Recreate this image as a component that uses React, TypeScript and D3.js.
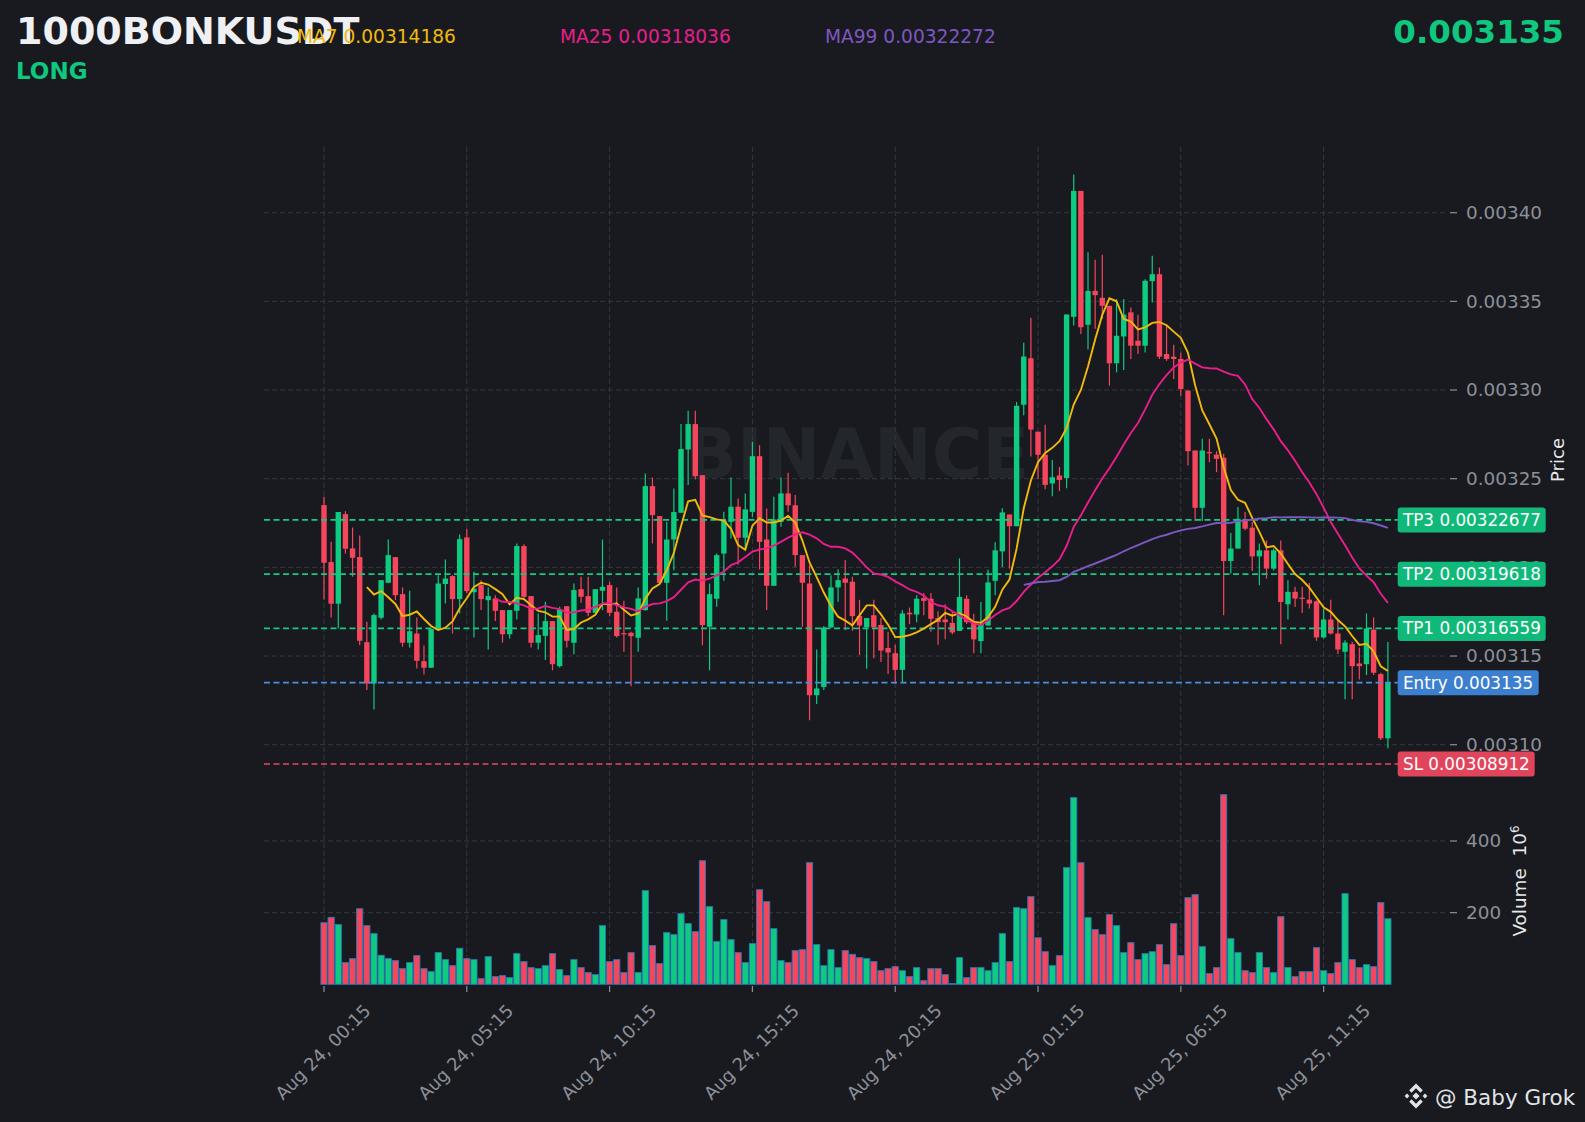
import React from "react";
import * as d3 from "d3";

// 15m candles, Aug 24 00:15 -> Aug 25 13:30 (price in USDT)
const opens = [
  0.0032351, 0.0032030, 0.0031795, 0.0032300, 0.0032107, 0.0032058, 0.0031578, 0.0031345, 0.0031716, 0.0031913,
  0.0032058, 0.0031849, 0.0031575, 0.0031627, 0.0031471, 0.0031434, 0.0031652, 0.0031906, 0.0031951, 0.0031821,
  0.0032169, 0.0031860, 0.0031900, 0.0031815, 0.0031825, 0.0031759, 0.0031623, 0.0031755, 0.0032120, 0.0031838,
  0.0031575, 0.0031614, 0.0031697, 0.0031443, 0.0031781, 0.0031575, 0.0031877, 0.0031838, 0.0031744, 0.0031868,
  0.0031900, 0.0031750, 0.0031629, 0.0031631, 0.0031603, 0.0031759, 0.0032458, 0.0032289, 0.0031913, 0.0032157,
  0.0032308, 0.0032665, 0.0032808, 0.0032520, 0.0031665, 0.0031823, 0.0032078, 0.0032257, 0.0032342, 0.0032167,
  0.0032313, 0.0032627, 0.0032157, 0.0031896, 0.0032257, 0.0032417, 0.0032350, 0.0032069, 0.0031909, 0.0031279,
  0.0031326, 0.0031661, 0.0031887, 0.0031937, 0.0031919, 0.0031726, 0.0031662, 0.0031730, 0.0031675, 0.0031545,
  0.0031516, 0.0031422, 0.0031744, 0.0031734, 0.0031827, 0.0031823, 0.0031714, 0.0031706, 0.0031687, 0.0031642,
  0.0031823, 0.0031695, 0.0031584, 0.0031672, 0.0031924, 0.0032090, 0.0032298, 0.0032232, 0.0032917, 0.0033179,
  0.0032765, 0.0032635, 0.0032473, 0.0032518, 0.0032504, 0.0033413, 0.0034123, 0.0033368, 0.0033559, 0.0033520,
  0.0033475, 0.0033151, 0.0033302, 0.0033438, 0.0033278, 0.0033250, 0.0033614, 0.0033653, 0.0033203, 0.0033188,
  0.0033175, 0.0032997, 0.0032659, 0.0032336, 0.0032650, 0.0032636, 0.0032618, 0.0032036, 0.0032106, 0.0032269,
  0.0032224, 0.0032062, 0.0032096, 0.0031993, 0.0032096, 0.0031792, 0.0031862, 0.0031829, 0.0031818, 0.0031809,
  0.0031605, 0.0031706, 0.0031627, 0.0031524, 0.0031567, 0.0031458, 0.0031454, 0.0031649, 0.0031398, 0.0031036,
];

const highs = [
  0.0032398, 0.0032144, 0.0032312, 0.0032317, 0.0032225, 0.0032180, 0.0031693, 0.0031740, 0.0031928, 0.0032157,
  0.0032058, 0.0031887, 0.0031868, 0.0031717, 0.0031560, 0.0031652, 0.0031956, 0.0032045, 0.0031956, 0.0032186,
  0.0032218, 0.0031975, 0.0031928, 0.0031887, 0.0031843, 0.0031759, 0.0031759, 0.0032135, 0.0032131, 0.0031838,
  0.0031740, 0.0031806, 0.0031697, 0.0031778, 0.0031781, 0.0031909, 0.0031947, 0.0031947, 0.0031877, 0.0032157,
  0.0031919, 0.0031887, 0.0031812, 0.0031637, 0.0031887, 0.0032530, 0.0032507, 0.0032289, 0.0032257, 0.0032445,
  0.0032808, 0.0032883, 0.0032883, 0.0032520, 0.0031909, 0.0032078, 0.0032313, 0.0032507, 0.0032389, 0.0032417,
  0.0032708, 0.0032689, 0.0032332, 0.0032398, 0.0032507, 0.0032533, 0.0032408, 0.0032069, 0.0032013, 0.0031537,
  0.0031669, 0.0031956, 0.0031988, 0.0032041, 0.0031947, 0.0031817, 0.0031714, 0.0031817, 0.0031714, 0.0031637,
  0.0031564, 0.0031759, 0.0031773, 0.0031843, 0.0031856, 0.0031856, 0.0031753, 0.0031792, 0.0031753, 0.0032051,
  0.0031843, 0.0031739, 0.0031804, 0.0031987, 0.0032142, 0.0032333, 0.0032298, 0.0032932, 0.0033267, 0.0033407,
  0.0032765, 0.0032804, 0.0032605, 0.0032566, 0.0033426, 0.0034215, 0.0034123, 0.0033777, 0.0033734, 0.0033763,
  0.0033475, 0.0033513, 0.0033513, 0.0033466, 0.0033425, 0.0033625, 0.0033757, 0.0033691, 0.0033372, 0.0033256,
  0.0033212, 0.0032997, 0.0032659, 0.0032725, 0.0032725, 0.0032655, 0.0032640, 0.0032194, 0.0032340, 0.0032312,
  0.0032256, 0.0032134, 0.0032152, 0.0032106, 0.0032152, 0.0031927, 0.0031890, 0.0031890, 0.0031912, 0.0031814,
  0.0031768, 0.0031818, 0.0031702, 0.0031589, 0.0031580, 0.0031548, 0.0031740, 0.0031717, 0.0031406, 0.0031579,
];

const lows = [
  0.0031819, 0.0031717, 0.0031655, 0.0032078, 0.0031947, 0.0031561, 0.0031308, 0.0031199, 0.0031706, 0.0031913,
  0.0031815, 0.0031552, 0.0031548, 0.0031430, 0.0031396, 0.0031434, 0.0031642, 0.0031796, 0.0031627, 0.0031740,
  0.0031853, 0.0031605, 0.0031759, 0.0031537, 0.0031697, 0.0031576, 0.0031599, 0.0031706, 0.0031815, 0.0031548,
  0.0031537, 0.0031477, 0.0031420, 0.0031435, 0.0031548, 0.0031510, 0.0031800, 0.0031725, 0.0031740, 0.0031759,
  0.0031725, 0.0031605, 0.0031524, 0.0031330, 0.0031524, 0.0031755, 0.0032135, 0.0031909, 0.0031699, 0.0031984,
  0.0032308, 0.0032464, 0.0032496, 0.0031561, 0.0031420, 0.0031778, 0.0031924, 0.0032163, 0.0032016, 0.0032107,
  0.0032285, 0.0031988, 0.0031759, 0.0031896, 0.0032229, 0.0032313, 0.0032003, 0.0031665, 0.0031138, 0.0031229,
  0.0031308, 0.0031661, 0.0031806, 0.0031646, 0.0031642, 0.0031506, 0.0031428, 0.0031487, 0.0031467, 0.0031399,
  0.0031345, 0.0031350, 0.0031680, 0.0031691, 0.0031730, 0.0031637, 0.0031564, 0.0031594, 0.0031623, 0.0031642,
  0.0031681, 0.0031516, 0.0031516, 0.0031672, 0.0031843, 0.0032002, 0.0031993, 0.0032232, 0.0032858, 0.0032625,
  0.0032498, 0.0032440, 0.0032401, 0.0032430, 0.0032446, 0.0033364, 0.0033316, 0.0033228, 0.0033345, 0.0033400,
  0.0033025, 0.0033100, 0.0033113, 0.0033175, 0.0033203, 0.0033212, 0.0033494, 0.0033175, 0.0033165, 0.0033062,
  0.0032968, 0.0032575, 0.0032261, 0.0032261, 0.0032593, 0.0032537, 0.0031730, 0.0031965, 0.0032106, 0.0032209,
  0.0031980, 0.0031899, 0.0031937, 0.0031983, 0.0031567, 0.0031706, 0.0031777, 0.0031743, 0.0031768, 0.0031586,
  0.0031599, 0.0031622, 0.0031511, 0.0031256, 0.0031256, 0.0031368, 0.0031393, 0.0031393, 0.0031027, 0.0030980,
];

const closes = [
  0.0032026, 0.0031795, 0.0032312, 0.0032105, 0.0032054, 0.0031586, 0.0031345, 0.0031731, 0.0031928, 0.0032069,
  0.0031843, 0.0031575, 0.0031640, 0.0031473, 0.0031434, 0.0031652, 0.0031909, 0.0031937, 0.0031821, 0.0032159,
  0.0031866, 0.0031880, 0.0031821, 0.0031838, 0.0031755, 0.0031623, 0.0031759, 0.0032120, 0.0031834, 0.0031575,
  0.0031618, 0.0031697, 0.0031454, 0.0031763, 0.0031586, 0.0031872, 0.0031834, 0.0031744, 0.0031877, 0.0031890,
  0.0031744, 0.0031612, 0.0031625, 0.0031612, 0.0031825, 0.0032458, 0.0032295, 0.0031913, 0.0032157, 0.0032312,
  0.0032667, 0.0032808, 0.0032515, 0.0031674, 0.0031849, 0.0032069, 0.0032266, 0.0032342, 0.0032167, 0.0032327,
  0.0032627, 0.0032144, 0.0031896, 0.0032270, 0.0032417, 0.0032350, 0.0032069, 0.0031913, 0.0031279, 0.0031317,
  0.0031661, 0.0031887, 0.0031928, 0.0031913, 0.0031725, 0.0031672, 0.0031714, 0.0031662, 0.0031531, 0.0031520,
  0.0031422, 0.0031740, 0.0031735, 0.0031823, 0.0031811, 0.0031710, 0.0031691, 0.0031691, 0.0031633, 0.0031833,
  0.0031691, 0.0031594, 0.0031681, 0.0031915, 0.0032096, 0.0032310, 0.0032232, 0.0032911, 0.0033189, 0.0032777,
  0.0032635, 0.0032465, 0.0032508, 0.0032493, 0.0033426, 0.0034123, 0.0033354, 0.0033559, 0.0033535, 0.0033475,
  0.0033151, 0.0033306, 0.0033425, 0.0033250, 0.0033250, 0.0033616, 0.0033653, 0.0033188, 0.0033175, 0.0033175,
  0.0033006, 0.0032655, 0.0032336, 0.0032659, 0.0032645, 0.0032612, 0.0032036, 0.0032106, 0.0032274, 0.0032218,
  0.0032062, 0.0032096, 0.0031993, 0.0032096, 0.0031805, 0.0031862, 0.0031824, 0.0031825, 0.0031796, 0.0031605,
  0.0031706, 0.0031627, 0.0031537, 0.0031576, 0.0031443, 0.0031443, 0.0031655, 0.0031406, 0.0031036, 0.0031350,
];

// volume in millions
const volumes = [
  172, 187, 166.5, 60.5, 71.6, 211, 163.7, 141.4, 81, 71.6,
  66, 43.7, 60.5, 80, 43.7, 35.3, 88.4, 68.8, 52, 100.5,
  71.6, 68.8, 15.8, 77.2, 21.4, 24.2, 18.6, 85.6, 63.3, 46.5,
  43.7, 52, 85.6, 41, 24.2, 68.8, 46.5, 32.6, 27, 163.7,
  63.3, 68.8, 32.6, 88.4, 32.6, 261.4, 108, 57.7, 144.2, 138.6,
  197.2, 169.3, 147, 345, 216.7, 119, 180.5, 124.6, 88.4, 60.5,
  113.5, 264, 230.7, 155.3, 66, 60.5, 94, 96.7, 339.5, 110.7,
  52, 96.7, 46.5, 94, 83.7, 74.4, 71.6, 63.3, 38, 43.7,
  49.3, 38, 21.4, 46.5, 10.2, 43.7, 43.7, 27, 2, 74.4,
  18.6, 46.5, 46.5, 38, 60.5, 141.4, 63.3, 214, 211, 244.6,
  130, 91, 52, 80, 325.6, 521, 339.5, 186, 152.6, 138.6,
  194.4, 163.7, 88.4, 116.3, 68.8, 85.6, 91, 110.7, 54.9, 169.3,
  80, 241.9, 250.2, 105, 29.8, 46.5, 529.3, 127.4, 88.4, 38,
  32.6, 88.4, 46.5, 32.6, 188.8, 46.5, 21.4, 35.3, 35.3, 102.3,
  38, 29.8, 60.5, 253, 68.8, 46.5, 54.9, 49.3, 228, 183,
];

const xTickIndex = [0, 20, 40, 60, 80, 100, 120, 140];
const xTickLabels = [
  "Aug 24, 00:15", "Aug 24, 05:15", "Aug 24, 10:15", "Aug 24, 15:15",
  "Aug 24, 20:15", "Aug 25, 01:15", "Aug 25, 06:15", "Aug 25, 11:15",
];
const priceTicks = [0.0031, 0.00315, 0.0032, 0.00325, 0.0033, 0.00335, 0.0034];
const volumeTicks = [200, 400];

const levelValues = [0.00322677, 0.00319618, 0.00316559, 0.003135, 0.00308912];
const levelTexts = ["TP3 0.00322677", "TP2 0.00319618", "TP1 0.00316559", "Entry 0.003135", "SL 0.00308912"];

const maPeriods = [7, 25, 99];
const maTexts = ["MA7 0.00314186", "MA25 0.00318036", "MA99 0.00322272"];

const BG = "#181a1f";
const UP = "#0ecb81";
const DOWN = "#f6465d";
const GRID = "#35383f";
const TICK = "#8c9099";
const FONT = "DejaVu Sans, sans-serif";
const MA_COLORS = ["#f0b90b", "#e91e8c", "#7e57c2"];
const LEVEL_LINE = ["#17c784", "#17c784", "#17c784", "#4a8fdc", "#e8455e"];
const LEVEL_BOX = ["#10b97a", "#10b97a", "#10b97a", "#3d7fcf", "#e0455c"];
const LEVEL_BOX_W = [148, 148, 148, 141, 137];

function movingAverage(values: number[], n: number): (number | null)[] {
  return values.map((_, i) => (i < n - 1 ? null : (d3.mean(values.slice(i - n + 1, i + 1)) as number)));
}

export default function App() {
  const W = 1585;
  const H = 1122;
  const plotL = 264;
  const plotR = 1448;
  const panelTop = 147;

  const x = d3.scaleLinear().domain([0, 149]).range([324, 1387.9]);
  const yP = d3.scaleLinear().domain([0.0031, 0.0034]).range([744.7, 212.7]);
  const yV = d3.scaleLinear().domain([0, 400]).range([984.3, 841]);
  const baseV = yV(0);

  const candleW = 5.4;
  const barW = 6.2;
  const idx = d3.range(closes.length);

  const maSeries = maPeriods.map((p) => movingAverage(closes, p));
  const maLine = d3
    .line<number | null>()
    .defined((d) => d != null)
    .x((_, i) => x(i))
    .y((d) => yP(d as number));

  return (
    <svg
      width={W}
      height={H}
      viewBox={`0 0 ${W} ${H}`}
      style={{ position: "absolute", left: 0, top: 0, display: "block", background: BG }}
      fontFamily={FONT}
    >
      <rect x={0} y={0} width={W} height={H} fill={BG} />

      {/* watermark */}
      <text x={857} y={478} textAnchor="middle" fontSize={69} fontWeight="bold" fill="#23262b">
        BINANCE
      </text>

      {/* vertical grid */}
      {xTickIndex.map((i) => (
        <line key={`vg${i}`} x1={x(i)} x2={x(i)} y1={panelTop} y2={baseV} stroke={GRID} strokeDasharray="5,3" />
      ))}
      {/* price grid */}
      {priceTicks.map((t) => (
        <line key={`pg${t}`} x1={plotL} x2={plotR} y1={yP(t)} y2={yP(t)} stroke={GRID} strokeDasharray="5,3" />
      ))}
      {/* volume grid */}
      {volumeTicks.map((t) => (
        <line key={`vgr${t}`} x1={plotL} x2={plotR} y1={yV(t)} y2={yV(t)} stroke={GRID} strokeDasharray="5,3" />
      ))}

      {/* volume bars */}
      {idx.map((i) => (
        <rect
          key={`v${i}`}
          x={x(i) - barW / 2}
          y={yV(volumes[i])}
          width={barW}
          height={Math.max(0.5, baseV - yV(volumes[i]))}
          fill={closes[i] >= opens[i] ? UP : DOWN}
          stroke="#2a78b8"
          strokeWidth={0.9}
        />
      ))}

      {/* candles */}
      {idx.map((i) => {
        const up = closes[i] >= opens[i];
        const c = up ? UP : DOWN;
        const top = yP(Math.max(opens[i], closes[i]));
        const bot = yP(Math.min(opens[i], closes[i]));
        return (
          <g key={`c${i}`}>
            <line x1={x(i)} x2={x(i)} y1={yP(highs[i])} y2={yP(lows[i])} stroke={c} strokeWidth={1.2} />
            <rect x={x(i) - candleW / 2} y={top} width={candleW} height={Math.max(1.2, bot - top)} fill={c} />
          </g>
        );
      })}

      {/* trade levels */}
      {levelValues.map((v, k) => (
        <line
          key={`lv${k}`}
          x1={plotL}
          x2={1398}
          y1={yP(v)}
          y2={yP(v)}
          stroke={LEVEL_LINE[k]}
          strokeWidth={1.6}
          strokeDasharray="6,3.5"
        />
      ))}

      {/* moving averages */}
      {maSeries.map((s, k) => (
        <path key={`ma${k}`} d={maLine(s) || ""} fill="none" stroke={MA_COLORS[k]} strokeWidth={1.9} />
      ))}

      {/* right price axis */}
      {priceTicks.map((t) => (
        <g key={`pt${t}`}>
          <line x1={1450} x2={1457} y1={yP(t)} y2={yP(t)} stroke={TICK} strokeWidth={1.2} />
          <text x={1466} y={yP(t)} dy="0.35em" fontSize={18.4} fill={TICK}>
            {d3.format(".5f")(t)}
          </text>
        </g>
      ))}
      {volumeTicks.map((t) => (
        <g key={`vt${t}`}>
          <line x1={1450} x2={1457} y1={yV(t)} y2={yV(t)} stroke={TICK} strokeWidth={1.2} />
          <text x={1466} y={yV(t)} dy="0.35em" fontSize={18.4} fill={TICK}>
            {t}
          </text>
        </g>
      ))}
      <text
        transform="translate(1558,460) rotate(-90)"
        textAnchor="middle"
        dy="0.35em"
        fontSize={18}
        fill="#e6e8ec"
      >
        Price
      </text>
      <text
        transform="translate(1520,881) rotate(-90)"
        textAnchor="middle"
        dy="0.35em"
        fontSize={18.4}
        fill="#e6e8ec"
      >
        Volume{"\u00a0\u00a0"}10
        <tspan dy="-0.6em" fontSize={12}>
          6
        </tspan>
      </text>

      {/* level tags */}
      {levelValues.map((v, k) => (
        <g key={`tag${k}`}>
          <rect x={1397.7} y={yP(v) - 12.5} width={LEVEL_BOX_W[k]} height={25} rx={3} fill={LEVEL_BOX[k]} />
          <text x={1403} y={yP(v)} dy="0.36em" fontSize={16.8} fill="#ffffff">
            {levelTexts[k]}
          </text>
        </g>
      ))}

      {/* bottom axis */}
      {xTickIndex.map((i, k) => (
        <g key={`xt${i}`}>
          <line x1={x(i)} x2={x(i)} y1={986} y2={992} stroke={TICK} strokeWidth={1.2} />
          <text
            transform={`translate(${x(i) - 1},1052) rotate(-45)`}
            textAnchor="middle"
            dy="0.35em"
            fontSize={17.8}
            fill={TICK}
          >
            {xTickLabels[k]}
          </text>
        </g>
      ))}

      {/* header */}
      <text x={16} y={44} fontSize={38} fontWeight="bold" fill="#eef0f4">
        1000BONKUSDT
      </text>
      <text x={16} y={79} fontSize={23} fontWeight="bold" fill="#10c77f">
        LONG
      </text>
      {maTexts.map((t, k) => (
        <text key={`mt${k}`} x={[297, 560, 825][k]} y={43} fontSize={18.6} fill={MA_COLORS[k]}>
          {t}
        </text>
      ))}
      <text x={1564} y={43} textAnchor="end" fontSize={32.5} fontWeight="bold" fill="#10c77f">
        {d3.format(".6f")(closes[closes.length - 1])}
      </text>

      {/* footer */}
      <g transform="translate(1416,1096)" fill="#e0e3e8">
        <path d="M0,-3.6L3.6,0L0,3.6L-3.6,0Z" />
        <path d="M-9,-2.4L-6.6,0L-9,2.4L-11.4,0Z" />
        <path d="M9,-2.4L11.4,0L9,2.4L6.6,0Z" />
        <path d="M0,-12.5L6.8,-5.7L4.4,-3.3L0,-7.7L-4.4,-3.3L-6.8,-5.7Z" />
        <path d="M0,12.5L6.8,5.7L4.4,3.3L0,7.7L-4.4,3.3L-6.8,5.7Z" />
      </g>
      <text x={1435} y={1105} fontSize={21.5} fill="#e0e3e8">
        @ Baby Grok
      </text>
    </svg>
  );
}
